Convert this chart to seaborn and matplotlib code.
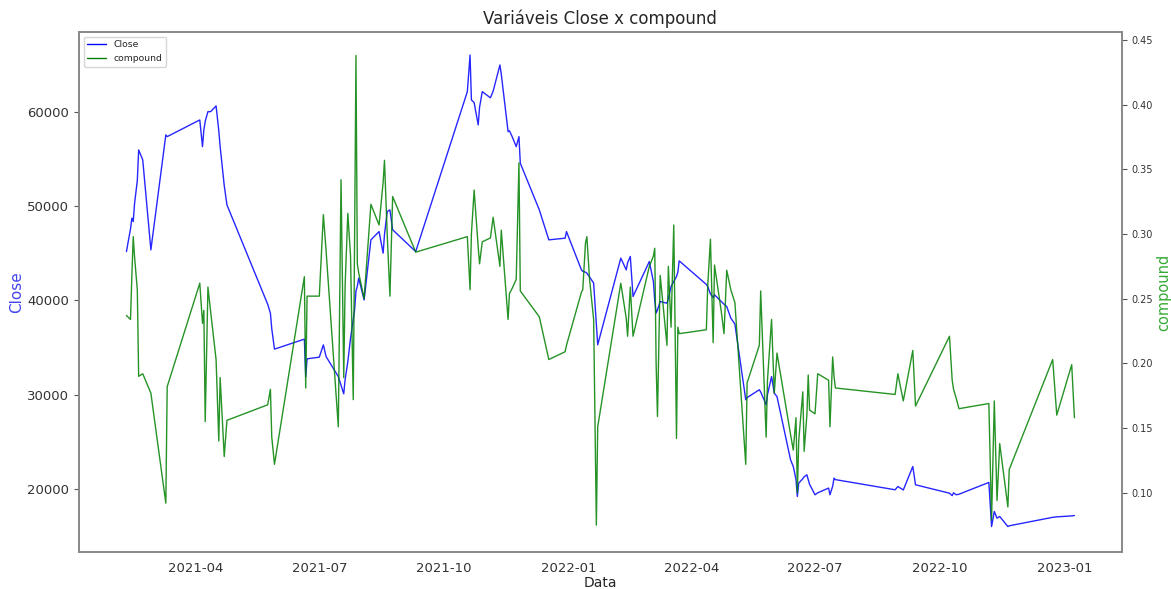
import pandas as pd
import seaborn as sns
import matplotlib.pyplot as plt
import matplotlib.dates as mdates
from matplotlib.lines import Line2D

# Data
dates = [
    "2021-02-09", "2021-02-12", "2021-02-13", "2021-02-14", "2021-02-15", "2021-02-17",
    "2021-02-18", "2021-02-21", "2021-02-27", "2021-03-10", "2021-03-11", "2021-04-04",
    "2021-04-06", "2021-04-07", "2021-04-08", "2021-04-10", "2021-04-12", "2021-04-16",
    "2021-04-18", "2021-04-19", "2021-04-22", "2021-04-24", "2021-05-24", "2021-05-26",
    "2021-05-27", "2021-05-29", "2021-06-20", "2021-06-21", "2021-06-22", "2021-07-01",
    "2021-07-04", "2021-07-06", "2021-07-15", "2021-07-17", "2021-07-19", "2021-07-20",
    "2021-07-22", "2021-07-24", "2021-07-26", "2021-07-27", "2021-07-28", "2021-07-29",
    "2021-07-30", "2021-08-03", "2021-08-08", "2021-08-14", "2021-08-17", "2021-08-18",
    "2021-08-20", "2021-08-22", "2021-08-24", "2021-09-10", "2021-10-18", "2021-10-20",
    "2021-10-21", "2021-10-23", "2021-10-26", "2021-10-27", "2021-10-29", "2021-11-04",
    "2021-11-06", "2021-11-11", "2021-11-12", "2021-11-17", "2021-11-18", "2021-11-20",
    "2021-11-23", "2021-11-25", "2021-11-26", "2021-12-10", "2021-12-17", "2021-12-29",
    "2021-12-30", "2022-01-10", "2022-01-11", "2022-01-13", "2022-01-14", "2022-01-16",
    "2022-01-19", "2022-01-21", "2022-01-22", "2022-02-08", "2022-02-12", "2022-02-13",
    "2022-02-15", "2022-02-17", "2022-03-01", "2022-03-04", "2022-03-05", "2022-03-06",
    "2022-03-07", "2022-03-09", "2022-03-14", "2022-03-15", "2022-03-17", "2022-03-19",
    "2022-03-21", "2022-03-22", "2022-03-23", "2022-04-12", "2022-04-13", "2022-04-15",
    "2022-04-17", "2022-04-18", "2022-04-23", "2022-04-25", "2022-04-27", "2022-04-30",
    "2022-05-03", "2022-05-11", "2022-05-12", "2022-05-21", "2022-05-22", "2022-05-26",
    "2022-05-27", "2022-05-30", "2022-06-01", "2022-06-03", "2022-06-13", "2022-06-15",
    "2022-06-17", "2022-06-18", "2022-06-19", "2022-06-22", "2022-06-23", "2022-06-25",
    "2022-06-26", "2022-06-27", "2022-07-01", "2022-07-03", "2022-07-11", "2022-07-12",
    "2022-07-14", "2022-07-15", "2022-07-16", "2022-08-29", "2022-08-31", "2022-09-04",
    "2022-09-11", "2022-09-13", "2022-10-08", "2022-10-10", "2022-10-11", "2022-10-13",
    "2022-10-15", "2022-11-06", "2022-11-08", "2022-11-10", "2022-11-12", "2022-11-14",
    "2022-11-20", "2022-11-21", "2022-12-23", "2022-12-26", "2023-01-06", "2023-01-08",
]

close = [
    45190, 47600, 48730, 48370, 50320, 52700,
    55970, 54910, 45370, 57560, 57380, 59150,
    56320, 58090, 59000, 60030, 60030, 60640,
    58000, 56320, 52200, 50140, 39600, 38660,
    37000, 34840, 35900, 31930, 33810, 33990,
    35290, 34050, 31930, 31000, 30100, 31590,
    33500, 36000, 38000, 39000, 41000, 41500,
    42370, 40060, 46430, 47310, 45020, 47000,
    49430, 49610, 47500, 45190, 62150, 66040,
    61270, 61000, 58620, 60500, 62150, 61500,
    62200, 64980, 64000, 57910, 58000, 57380,
    56320, 57380, 54560, 49610, 46430, 46610,
    47310, 43250, 43100, 43000, 42900, 42500,
    41840, 37500, 35300, 44490, 43250, 44000,
    44670, 40420, 44130, 42000, 40000, 38660,
    39000, 39890, 39710, 40200, 41480, 42000,
    42540, 43000, 44200, 41700, 41480, 40700,
    40300, 40600, 39890, 39600, 39360, 38130,
    37500, 29470, 29700, 30530, 30300, 28940,
    30000, 31930, 30170, 29810, 23090, 22390,
    21000, 19210, 20630, 21100, 21300, 21510,
    21000, 20500, 19390, 19600, 20100, 19390,
    20300, 21160, 21000, 19920, 20270, 19900,
    22390, 20450, 19560, 19300, 19600, 19390,
    19450, 20700, 16020, 17620, 16910, 17090,
    16020, 16100, 17000, 17050, 17150, 17190,
]

compound = [
    0.237, 0.234, 0.268, 0.298, 0.282, 0.257,
    0.190, 0.192, 0.177, 0.092, 0.182, 0.262,
    0.231, 0.241, 0.155, 0.259, 0.240, 0.203,
    0.140, 0.189, 0.128, 0.156, 0.168, 0.180,
    0.143, 0.122, 0.267, 0.181, 0.252, 0.252,
    0.315, 0.287, 0.151, 0.342, 0.189, 0.260,
    0.316, 0.283, 0.172, 0.298, 0.438, 0.277,
    0.270, 0.250, 0.323, 0.307, 0.340, 0.357,
    0.300, 0.252, 0.329, 0.286, 0.298, 0.257,
    0.300, 0.334, 0.290, 0.277, 0.294, 0.297,
    0.313, 0.275, 0.303, 0.234, 0.254, 0.258,
    0.265, 0.355, 0.256, 0.236, 0.203, 0.209,
    0.214, 0.255, 0.257, 0.293, 0.298, 0.265,
    0.234, 0.075, 0.151, 0.262, 0.235, 0.221,
    0.259, 0.221, 0.275, 0.283, 0.289, 0.200,
    0.159, 0.268, 0.214, 0.275, 0.228, 0.307,
    0.142, 0.228, 0.223, 0.226, 0.260, 0.296,
    0.216, 0.276, 0.240, 0.223, 0.272, 0.257,
    0.247, 0.122, 0.185, 0.214, 0.256, 0.143,
    0.187, 0.234, 0.177, 0.208, 0.145, 0.133,
    0.158, 0.100, 0.140, 0.178, 0.132, 0.160,
    0.191, 0.164, 0.161, 0.192, 0.187, 0.151,
    0.205, 0.190, 0.181, 0.176, 0.192, 0.171,
    0.210, 0.167, 0.221, 0.187, 0.180, 0.173,
    0.165, 0.169, 0.079, 0.171, 0.094, 0.138,
    0.089, 0.118, 0.203, 0.160, 0.199, 0.158,
]

df = pd.DataFrame({"Data": pd.to_datetime(dates), "Close": close, "compound": compound})

sns.set_style("white")
plt.rcParams["font.family"] = ["DejaVu Sans"]

fig, ax = plt.subplots(figsize=(11.71, 5.89), dpi=100)
fig.subplots_adjust(left=0.0675, right=0.958, top=0.9457, bottom=0.0628)
ax2 = ax.twinx()

sns.lineplot(data=df, x="Data", y="Close", ax=ax, color="blue", linewidth=1.0, alpha=0.85, legend=False)
sns.lineplot(data=df, x="Data", y="compound", ax=ax2, color="green", linewidth=1.0, alpha=0.85, legend=False)

ax.set_ylim(13320, 68480)
ax2.set_ylim(0.0542, 0.4562)

ax.xaxis.set_major_locator(mdates.MonthLocator(bymonth=[1, 4, 7, 10]))
ax.xaxis.set_major_formatter(mdates.DateFormatter("%Y-%m"))

ax.set_title("Variáveis Close x compound", fontsize=12)
ax.set_xlabel("Data", fontsize=10, labelpad=1)
ax.set_ylabel("Close", fontsize=11, color="#4444ee", labelpad=2)
ax2.set_ylabel("compound", fontsize=10.5, color="#33aa33", labelpad=2)

ax.tick_params(axis="both", labelsize=9.5, length=3.5, color="#555555", labelcolor="#333333")
ax2.tick_params(axis="y", labelsize=7, length=3.5, color="#555555", labelcolor="#333333")

for a in (ax, ax2):
    for s in a.spines.values():
        s.set_color("#888888")
        s.set_linewidth(1.2)

handles = [
    Line2D([0], [0], color="blue", lw=1.0),
    Line2D([0], [0], color="green", lw=1.0),
]
ax.legend(handles, ["Close", "compound"], loc="upper left", fontsize=6.7, frameon=True)

plt.savefig("out.png", dpi=100)
plt.close()
